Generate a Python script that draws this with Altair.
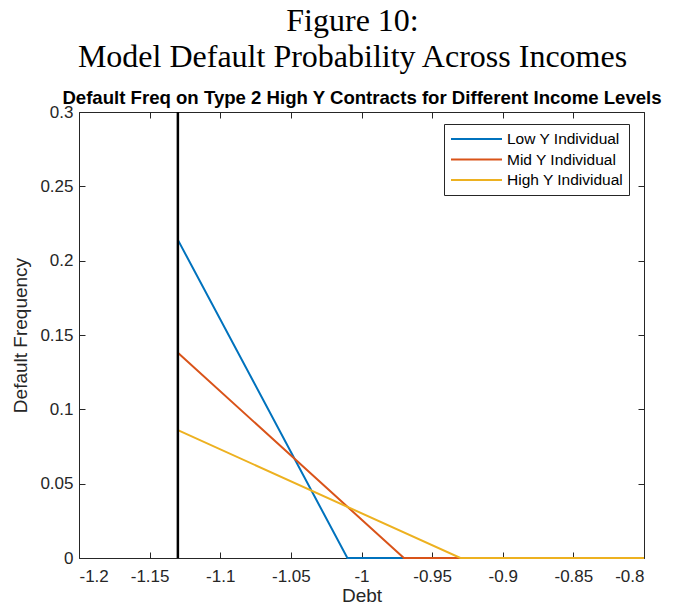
import altair as alt
import pandas as pd

# ---- data ----
series = ["Low Y Individual", "Mid Y Individual", "High Y Individual"]
colors = ["#0072BD", "#D95319", "#EDB120"]

low_x = [-1.13, -1.01, -0.8]
low_y = [0.214, 0.0, 0.0]
mid_x = [-1.13, -0.97, -0.8]
mid_y = [0.138, 0.0, 0.0]
high_x = [-1.13, -0.93, -0.8]
high_y = [0.086, 0.0, 0.0]

cutoff_x = [-1.13]

x_domain = [-1.2, -0.8]
y_domain = [0, 0.3]
x_ticks = [-1.2, -1.15, -1.1, -1.05, -1.0, -0.95, -0.9, -0.85, -0.8]
y_ticks = [0, 0.05, 0.1, 0.15, 0.2, 0.25, 0.3]

rows = []
for name, xs, ys in zip(series, [low_x, mid_x, high_x], [low_y, mid_y, high_y]):
    for xv, yv in zip(xs, ys):
        rows.append({"debt": xv, "freq": yv, "series": name})
df = pd.DataFrame(rows)
cut_df = pd.DataFrame({"debt": cutoff_x})

AX = "#262626"
FONT = "Liberation Sans"
tick_style = dict(grid=True, gridDash=[6, 2000], gridColor=AX, gridOpacity=1,
                  gridWidth=1, ticks=False, domain=True, domainColor=AX,
                  domainWidth=1, zindex=0)

x_scale = alt.Scale(domain=x_domain, nice=False, zero=False)
y_scale = alt.Scale(domain=y_domain, nice=False, zero=False)

lines = alt.Chart(df).mark_line(strokeWidth=2).encode(
    x=alt.X("debt:Q", scale=x_scale,
            axis=alt.Axis(orient="bottom", values=x_ticks, labelExpr="'' + datum.value",
                          title="Debt", labelPadding=10, labelFontSize=17,
                          titleFontSize=19, titleFontWeight="normal",
                          titleY=43, titleBaseline="alphabetic", **tick_style)),
    y=alt.Y("freq:Q", scale=y_scale,
            axis=alt.Axis(orient="left", values=y_ticks, labelExpr="'' + datum.value",
                          title="Default Frequency", labelPadding=6, labelFontSize=17,
                          titleFontSize=19, titleFontWeight="normal",
                          titleX=-59, titleY=223, titleAngle=270,
                          titleBaseline="middle", titleAlign="center", **tick_style)),
    color=alt.Color("series:N", scale=alt.Scale(domain=series, range=colors),
                    legend=alt.Legend(title=None, orient="none", legendX=365, legendY=12,
                                      fillColor="white", strokeColor=AX, padding=5,
                                      symbolType="stroke", symbolSize=2601,
                                      symbolStrokeWidth=2, symbolOffset=1, labelOffset=4,
                                      labelFont=FONT, labelFontSize=15.5, labelColor="black",
                                      clipHeight=20, rowPadding=0.5)),
)

cut = alt.Chart(cut_df).mark_rule(color="black", strokeWidth=2.5).encode(
    x=alt.X("debt:Q", scale=x_scale,
            axis=alt.Axis(orient="top", values=x_ticks, labels=False,
                          title="Default Freq on Type 2 High Y Contracts for Different Income Levels",
                          titleFont=FONT, titleFontSize=18.6, titleFontWeight="bold",
                          titleColor="black", titleY=-9, titleBaseline="alphabetic",
                          **tick_style)),
    y=alt.Y(datum=y_domain[0], type="quantitative", scale=y_scale,
            axis=alt.Axis(orient="right", values=y_ticks, labels=False, title=None, **tick_style)),
    y2=alt.Y2(datum=y_domain[1]),
)

chart = alt.layer(lines, cut).resolve_axis(x="independent", y="independent").properties(
    width=565, height=446,
    autosize=alt.AutoSizeParams(type="none"),
    padding={"left": 71, "top": 104, "right": 20, "bottom": 45},
    title=alt.Title(
        text=["Figure 10:", "Model Default Probability Across Incomes"],
        font="Liberation Serif", fontSize=32, fontWeight="normal", lineHeight=36,
        color="black", anchor="middle", dx=-9, offset=14,
    ),
).configure_view(stroke=None).configure_axis(
    labelFont=FONT, titleFont=FONT, labelColor=AX, titleColor=AX
)

chart.save("out.html", embed_options={"renderer": "svg", "actions": False})
